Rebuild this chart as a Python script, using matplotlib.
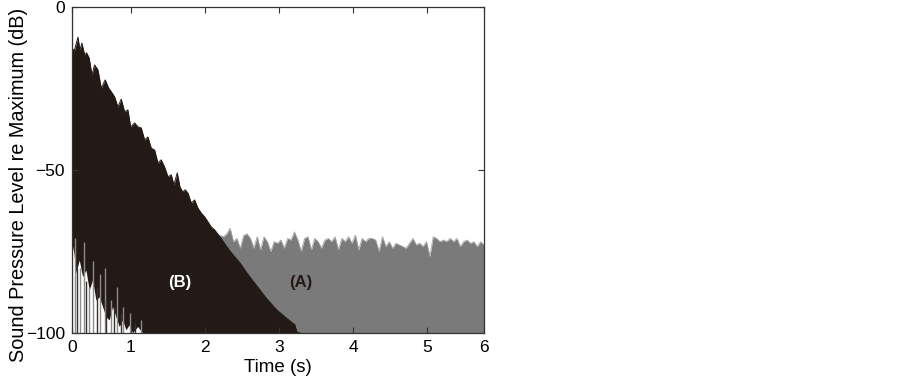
import numpy as np
import matplotlib.pyplot as plt

plt.rcParams['font.family'] = ['Liberation Sans', 'DejaVu Sans']

# (B) decay: upper envelope (time s, level dB)
b_time = [0.20, 0.205, 0.239, 0.284, 0.311, 0.338, 0.374, 0.401, 0.436, 0.473, 0.509,
          0.554, 0.599, 0.653, 0.699, 0.734, 0.780, 0.824, 0.869, 0.915, 0.959,
          0.996, 1.050, 1.095, 1.139, 1.185, 1.230, 1.274, 1.320, 1.365, 1.409,
          1.455, 1.500, 1.545, 1.581, 1.626, 1.662, 1.699, 1.734, 1.770, 1.815,
          1.861, 1.905, 1.950, 1.996, 2.041, 2.085, 2.131, 2.203, 2.293, 2.378,
          2.473, 2.564, 2.631, 2.743, 2.834, 2.969, 3.104, 3.216, 3.239, 3.284]
b_level = [0.0, -13.0, -13.2, -9.3, -13.2, -11.1, -14.7, -14.1, -15.7, -20.9, -17.8,
           -19.3, -24.9, -22.4, -24.9, -26.0, -27.6, -30.7, -28.3, -32.2, -31.6,
           -36.8, -35.6, -36.8, -37.1, -40.8, -39.9, -43.3, -43.9, -47.9, -46.9,
           -49.1, -52.1, -51.5, -54.6, -50.9, -55.2, -56.7, -56.1, -57.1, -60.1,
           -59.2, -61.7, -63.2, -64.4, -65.9, -67.5, -68.4, -70.5, -73.5, -76.0,
           -78.5, -81.5, -83.5, -86.8, -89.5, -92.9, -95.5, -97.5, -99.6, -100.0]

# (A) with noise floor: decay part (hidden under B) then floor peaks
a_decay_time = [0.20, 1.00, 1.60, 2.00, 2.15]
a_decay_level = [-15.0, -40.0, -57.0, -66.5, -70.0]
a_floor_level = [-70.1, -70.5, -69.6, -67.9, -72.0, -71.0, -74.0, -70.1, -69.6, -71.0,
                 -74.0, -70.5, -74.5, -70.5, -72.0, -75.0, -72.0, -72.5, -71.5, -74.0,
                 -71.0, -71.5, -69.0, -71.5, -75.0, -71.0, -70.5, -74.5, -71.0, -72.0,
                 -74.0, -71.5, -71.0, -72.0, -70.5, -74.5, -71.0, -72.0, -70.5, -72.5,
                 -70.0, -74.5, -71.0, -72.0, -71.0, -71.0, -71.5, -75.0, -70.5, -73.5,
                 -72.0, -74.0, -72.5, -73.0, -73.5, -74.0, -72.5, -71.0, -73.0, -72.5,
                 -73.5, -72.0, -76.5, -70.5, -71.0, -72.0, -71.5, -72.0, -71.0, -72.0,
                 -71.0, -73.5, -72.0, -71.5, -72.5, -72.0, -73.5, -72.0, -73.0]
a_floor_time = np.linspace(2.203, 5.77, len(a_floor_level))

# lower edge of the dense trace at the start (white gap below it)
low_time = [0.20, 0.23, 0.257, 0.302, 0.347, 0.392, 0.437, 0.482, 0.527, 0.572,
            0.617, 0.662, 0.707, 0.752, 0.797, 0.842, 0.887, 0.932, 0.977,
            1.022, 1.090, 1.157, 1.30]
low_level = [-72.0, -75.5, -81.6, -77.6, -82.7, -80.7, -86.8, -83.7, -89.9, -88.9,
             -91.9, -95.0, -96.0, -91.9, -95.0, -98.0, -96.0, -99.0, -97.5,
             -100.0, -98.0, -100.0, -100.0]

# single spikes rising through the gap
gray_spike_time = [0.248, 0.306, 0.365, 0.428, 0.486, 0.577, 0.644, 0.725, 0.815,
                   0.892, 0.982, 1.139]
gray_spike_top = [-71.0, -80.0, -72.0, -86.0, -78.0, -82.0, -80.0, -90.0, -86.0,
                  -92.0, -94.0, -96.0]
dark_spike_time = [0.275, 0.396, 0.545, 0.666, 0.770, 0.869, 1.05]
dark_spike_top = [-80.0, -84.0, -86.0, -90.0, -92.0, -94.0, -97.0]

dark = '#231916'
grey = '#7a7a7a'

fig = plt.figure(figsize=(9.03, 3.81), dpi=100)
ax = fig.add_axes([0.0794, 0.126, 0.4566, 0.856])

a_time = list(a_decay_time) + list(a_floor_time)
a_level = list(a_decay_level) + list(a_floor_level)
ax.fill_between(a_time, -100, a_level, color=grey, lw=0)
ax.plot(a_floor_time, a_floor_level, color='#a2a2a2', lw=0.6)
ax.fill_between(b_time, -100, b_level, color=dark, lw=0)
ax.plot(b_time, b_level, color=dark, lw=0.7)
ax.fill_between(low_time, -100, low_level, color='white', lw=0)
ax.vlines(gray_spike_time, -100, gray_spike_top, color='#8c8c8c', lw=1.0)
ax.vlines(dark_spike_time, -100, dark_spike_top, color='#3a302d', lw=1.0)
ax.vlines([0.205], -100, 0, color=dark, lw=1.5)

ax.text(1.66, -84.4, '(B)', color='white', fontsize=12, fontweight='bold',
        ha='center', va='center')
ax.text(3.30, -84.4, '(A)', color=dark, fontsize=12, fontweight='bold',
        ha='center', va='center')

ax.set_xlim(0.2, 5.77)
ax.set_ylim(-100, 0)
ax.set_xticks([0.2, 1, 2, 3, 4, 5, 5.77])
ax.set_xticklabels(['0', '1', '2', '3', '4', '5', '6'])
ax.set_yticks([-100, -50, 0])
ax.set_yticklabels(['\u2212100', '\u221250', '0'])
ax.tick_params(direction='in', top=True, right=True, length=4, width=0.8,
               labelsize=12.5, pad=5, colors='#333333')
ax.tick_params(labelcolor='black')
for s in ax.spines.values():
    s.set_color('#333333')
    s.set_linewidth(0.9)
ax.set_xlabel('Time (s)', fontsize=13.5)
ax.xaxis.set_label_coords(0.5, -0.08)
ax.set_ylabel('Sound Pressure Level re Maximum (dB)', fontsize=14.3)
ax.yaxis.set_label_coords(-0.105, 0.455)

fig.savefig('out.png', dpi=100)
